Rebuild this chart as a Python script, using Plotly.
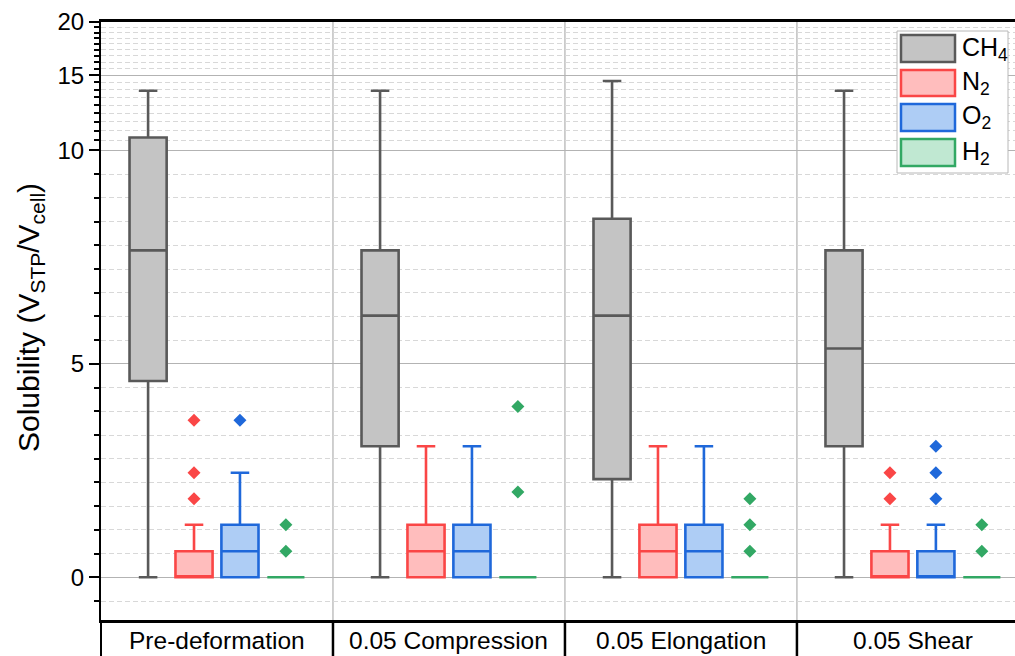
import numpy as np
import plotly.graph_objects as go

# ---------------- data ----------------
categories = ["Pre-deformation", "0.05 Compression", "0.05 Elongation", "0.05 Shear"]
gases = ["CH<sub>4</sub>", "N<sub>2</sub>", "O<sub>2</sub>", "H<sub>2</sub>"]

ch4_low = [0.0, 0.0, 0.0, 0.0]
ch4_q1 = [4.60, 3.07, 2.30, 3.07]
ch4_med = [7.66, 6.13, 6.13, 5.36]
ch4_q3 = [10.73, 7.66, 8.40, 7.66]
ch4_high = [13.8, 13.8, 14.55, 13.8]
ch4_out = [[], [], [], []]

n2_low = [0.0, 0.0, 0.0, 0.0]
n2_q1 = [0.0, 0.0, 0.0, 0.0]
n2_med = [0.0, 0.61, 0.61, 0.0]
n2_q3 = [0.61, 1.23, 1.23, 0.61]
n2_high = [1.23, 3.07, 3.07, 1.23]
n2_out = [[1.84, 2.45, 3.68], [], [], [1.84, 2.45]]

o2_low = [0.0, 0.0, 0.0, 0.0]
o2_q1 = [0.0, 0.0, 0.0, 0.0]
o2_med = [0.61, 0.61, 0.61, 0.0]
o2_q3 = [1.23, 1.23, 1.23, 0.61]
o2_high = [2.45, 3.07, 3.07, 1.23]
o2_out = [[3.68], [], [], [1.84, 2.45, 3.07]]

h2_low = [0.0, 0.0, 0.0, 0.0]
h2_q1 = [0.0, 0.0, 0.0, 0.0]
h2_med = [0.0, 0.0, 0.0, 0.0]
h2_q3 = [0.0, 0.0, 0.0, 0.0]
h2_high = [0.0, 0.0, 0.0, 0.0]
h2_out = [[0.61, 1.23], [2.0, 4.0], [0.61, 1.23, 1.84], [0.61, 1.23]]

y_major_ticks = [0, 5, 10, 15, 20]

# ---------------- styling ----------------
fill_colors = ["#c4c4c4", "#ffbdbd", "#aecdf5", "#c0e8d2"]
line_colors = ["#595959", "#fa4646", "#1f68da", "#32a864"]
FONT = "Liberation Sans, Arial, sans-serif"


def tr(v):
    """Axis scale: linear up to 10, logarithmic (10 units per decade) above."""
    v = np.asarray(v, dtype=float)
    return np.where(v <= 10, v, 10 + 10 * np.log10(np.maximum(v, 1e-9) / 10))


series = [
    (ch4_low, ch4_q1, ch4_med, ch4_q3, ch4_high, ch4_out),
    (n2_low, n2_q1, n2_med, n2_q3, n2_high, n2_out),
    (o2_low, o2_q1, o2_med, o2_q3, o2_high, o2_out),
    (h2_low, h2_q1, h2_med, h2_q3, h2_high, h2_out),
]

slot = 0.198
offsets = [(-1.5 + k) * slot for k in range(4)]
box_w = 0.16

fig = go.Figure()
cat_idx = np.arange(len(categories))
for k, (lo, q1, med, q3, hi, out) in enumerate(series):
    pos = cat_idx + offsets[k]
    fig.add_trace(go.Box(
        x=pos, q1=tr(q1), median=tr(med), q3=tr(q3),
        lowerfence=tr(lo), upperfence=tr(hi),
        width=box_w, whiskerwidth=0.5,
        fillcolor=fill_colors[k],
        line=dict(color=line_colors[k], width=2.6),
        boxpoints=False, showlegend=False, name=gases[k],
    ))
    ox, oy = [], []
    for i, vals in enumerate(out):
        ox += [pos[i]] * len(vals)
        oy += list(vals)
    if ox:
        fig.add_trace(go.Scatter(
            x=ox, y=tr(oy), mode="markers", showlegend=False,
            marker=dict(symbol="diamond", size=10, color=line_colors[k]),
        ))

# y minor ticks: 8 per major interval
minor_vals = [-5 / 9]
for a in range(0, 4):
    for j in range(1, 9):
        minor_vals.append(a * 5 + j * 5 / 9)

y_lo, y_hi = -1.0, float(tr(20))
x_lo, x_hi = -0.5, 3.44

fig.update_layout(
    width=1015, height=656,
    margin=dict(l=101, r=0, t=22, b=36, autoexpand=False),
    paper_bgcolor="white", plot_bgcolor="white",
    font=dict(family=FONT, color="black"),
    xaxis=dict(
        range=[x_lo, x_hi], tickmode="array", tickvals=list(cat_idx),
        ticktext=categories, showticklabels=False, ticks="", showgrid=False,
        zeroline=False, showline=True, linecolor="black", linewidth=2.5, mirror=True,
        automargin=False,
    ),
    yaxis=dict(
        range=[y_lo, y_hi], tickmode="array",
        tickvals=list(tr(y_major_ticks)), ticktext=[str(t) for t in y_major_ticks],
        ticks="outside", ticklen=10, tickwidth=2, tickcolor="black",
        showline=True, linecolor="black", linewidth=2,
        showgrid=True, gridcolor="#b3b3b3", gridwidth=1, zeroline=False,
        automargin=False,
        tickfont=dict(size=24, family=FONT, color="black"),
        minor=dict(
            tickmode="array", tickvals=list(tr(minor_vals)),
            ticks="outside", ticklen=5, tickwidth=1.5, tickcolor="black",
            showgrid=True, gridcolor="#d8d8d8", griddash="5px,3px", gridwidth=1,
        ),
    ),
)

# helpers for pixel placement of decorations
plot_l, plot_t, plot_w, plot_h = 101, 22, 914, 598


def px_x(p):
    return (p - plot_l) / plot_w


def px_y(p):
    return (plot_t + plot_h - p) / plot_h


def data_to_paper_x(v):
    return (v - x_lo) / (x_hi - x_lo)


shapes = []
row_bottom = px_y(658)
for b in [0.5, 1.5, 2.5]:
    xp = data_to_paper_x(b)
    shapes.append(dict(type="line", xref="paper", yref="paper", x0=xp, x1=xp,
                       y0=0, y1=1, line=dict(color="#a0a0a0", width=1), layer="below"))
    shapes.append(dict(type="line", xref="paper", yref="paper", x0=xp, x1=xp,
                       y0=row_bottom, y1=0, line=dict(color="black", width=2.5)))
shapes.append(dict(type="line", xref="paper", yref="paper", x0=0, x1=0,
                   y0=row_bottom, y1=0, line=dict(color="black", width=2)))

annotations = []
# category labels in the table row under the axis
for i, c in enumerate(categories):
    annotations.append(dict(xref="x", yref="paper", x=float(cat_idx[i]), y=px_y(640),
                            text=c, showarrow=False, xanchor="center", yanchor="middle",
                            font=dict(size=24.5, family=FONT, color="black")))

# custom legend
shapes.append(dict(type="rect", xref="paper", yref="paper",
                   x0=px_x(897), x1=px_x(1008), y0=px_y(173), y1=px_y(31),
                   fillcolor="white", line=dict(color="#b8b8b8", width=1)))
legend_rows = [(35, 62), (70, 96), (104, 131), (139, 166)]
for k, (t0, t1) in enumerate(legend_rows):
    shapes.append(dict(type="rect", xref="paper", yref="paper",
                       x0=px_x(901), x1=px_x(955), y0=px_y(t1), y1=px_y(t0),
                       fillcolor=fill_colors[k], line=dict(color=line_colors[k], width=2.5)))
    annotations.append(dict(xref="paper", yref="paper", x=px_x(960), y=px_y((t0 + t1) / 2),
                            text=gases[k], showarrow=False, xanchor="left", yanchor="middle",
                            font=dict(size=25, family=FONT, color="black")))

annotations.append(dict(xref="paper", yref="paper", x=px_x(30), y=px_y(318),
                        text="Solubility (V<sub>STP</sub>/V<sub>cell</sub>)",
                        textangle=-90, showarrow=False, xanchor="center", yanchor="middle",
                        font=dict(size=30, family=FONT, color="black")))

fig.update_layout(shapes=shapes, annotations=annotations)
fig.write_html("out.html")
